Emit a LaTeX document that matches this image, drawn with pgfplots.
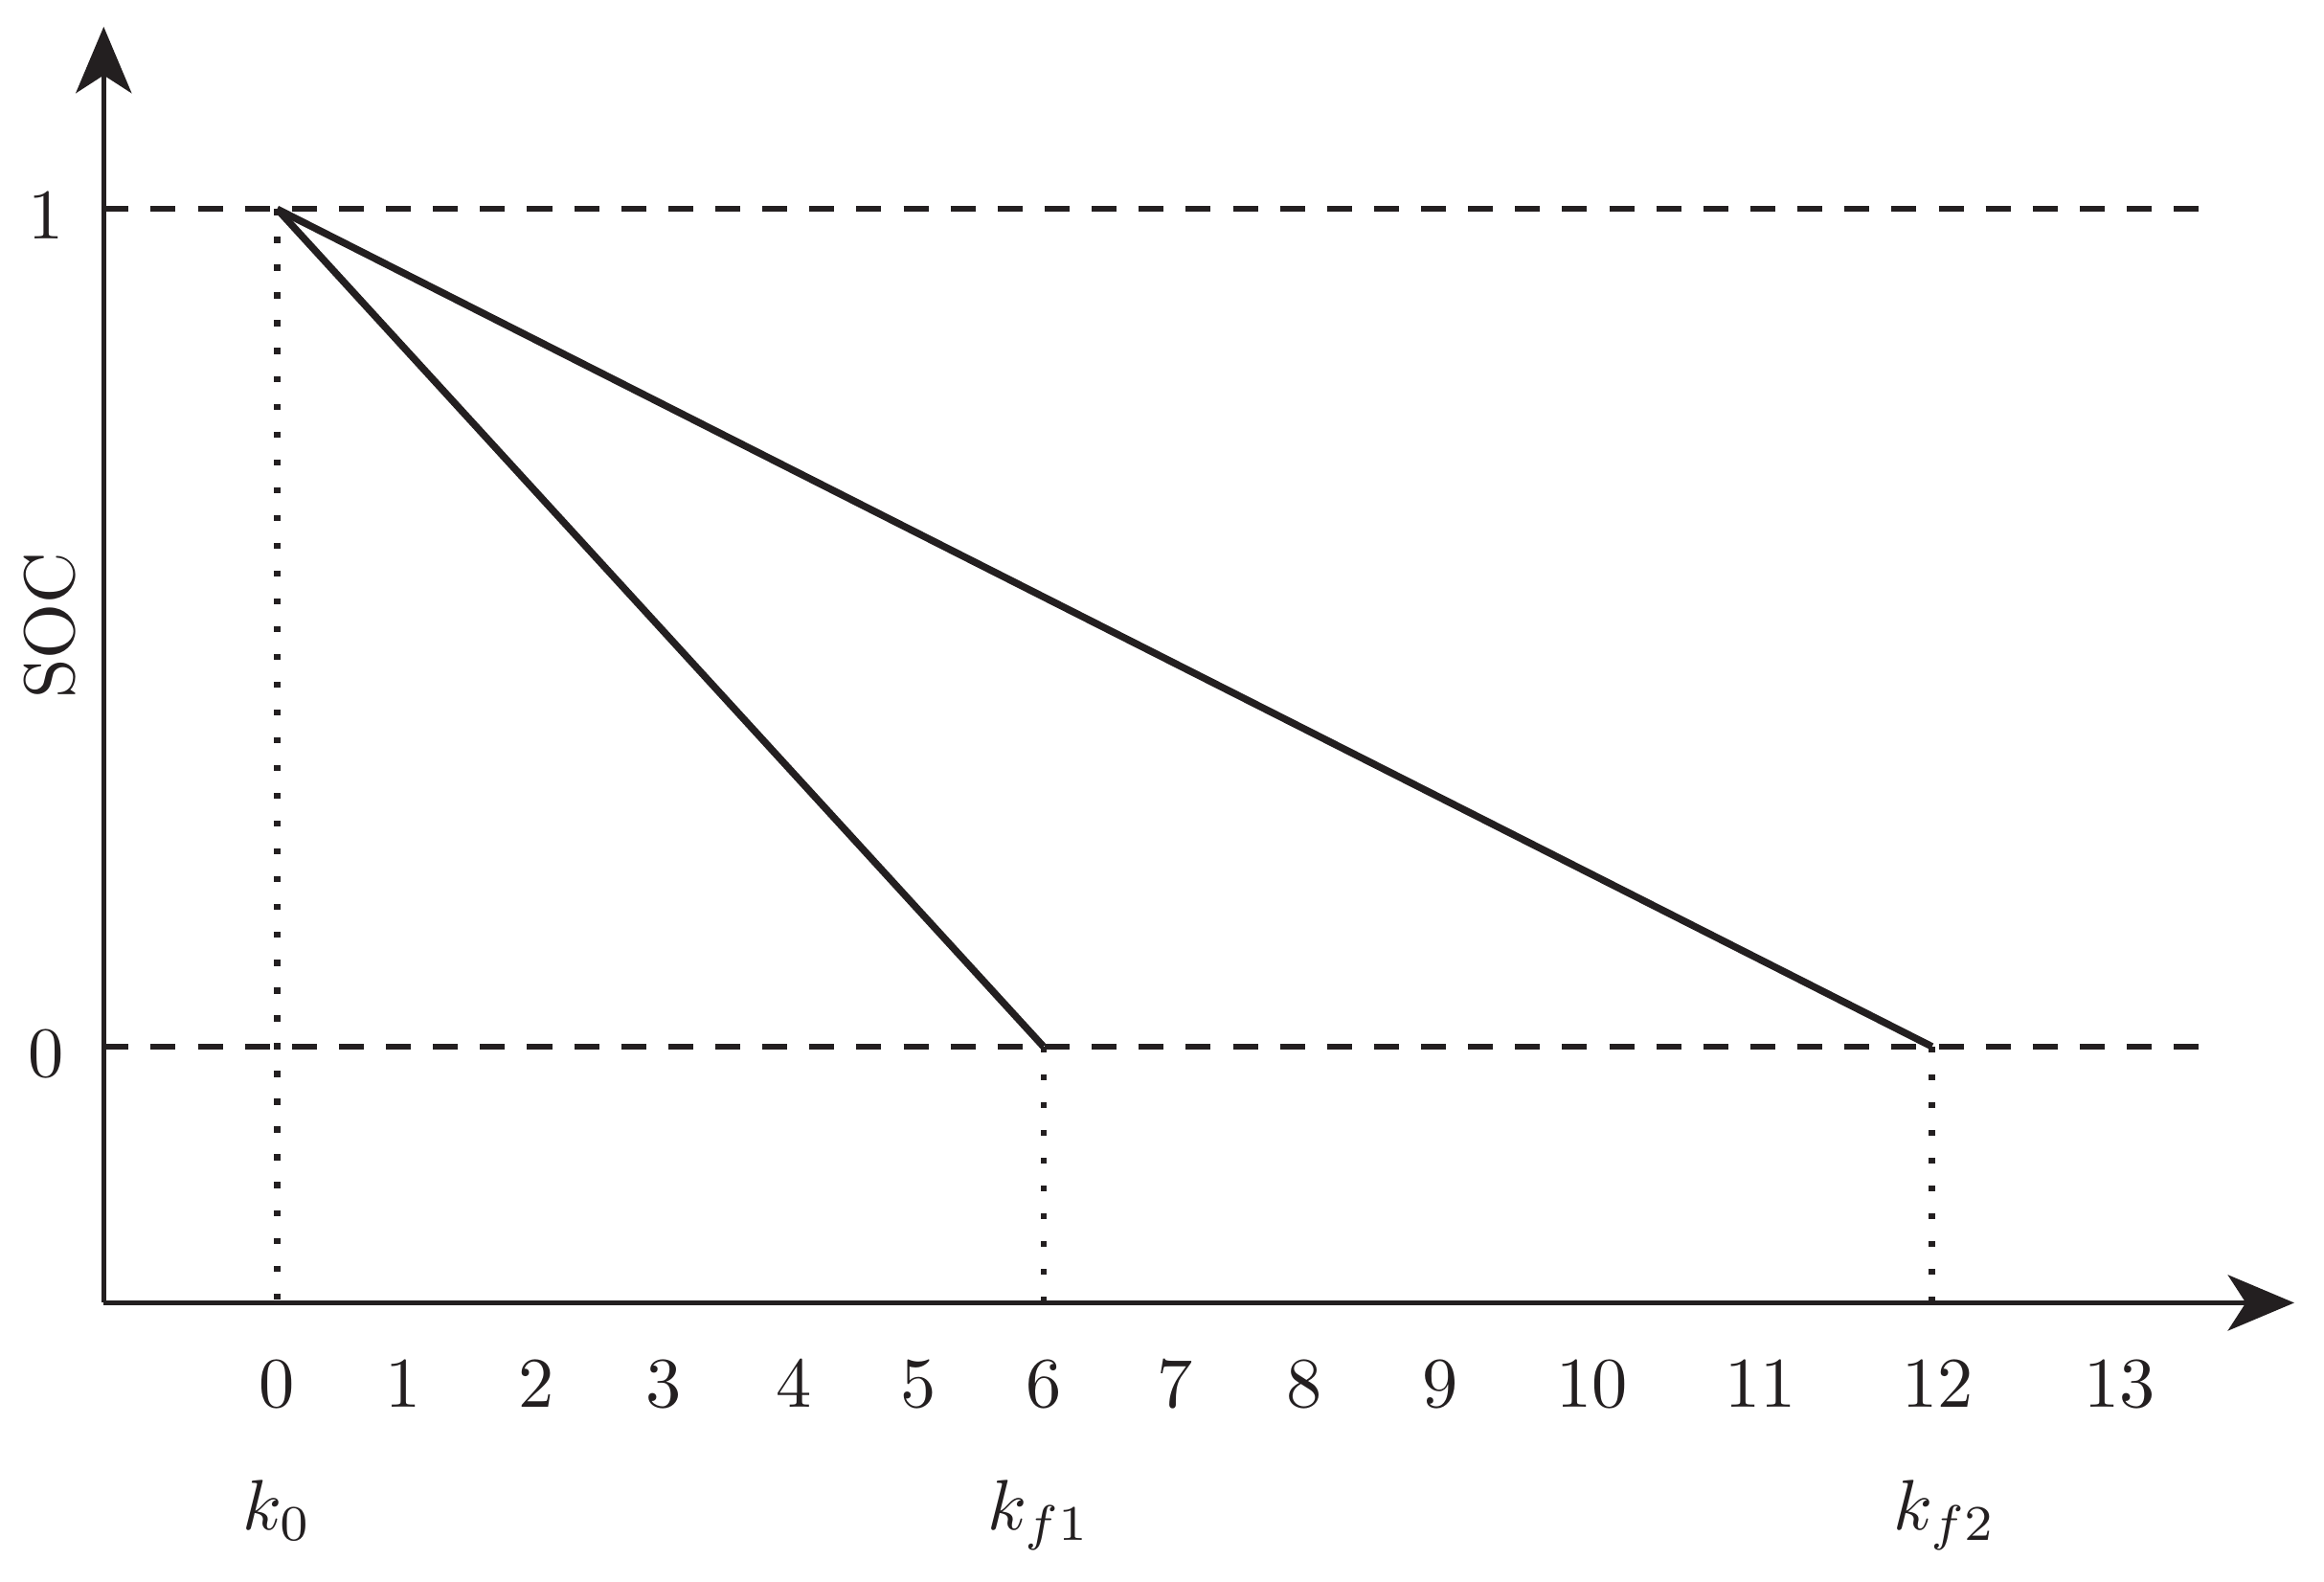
\documentclass[border=0pt]{standalone}
\usepackage{pgfplots}
\pgfplotsset{compat=1.18}
\usetikzlibrary{arrows.meta}
\definecolor{ink}{HTML}{231F20}

\begin{document}
\begin{tikzpicture}
\begin{axis}[
    scale only axis,
    width=307.3pt, height=179pt,
    xmin=-1.358, xmax=15.794,
    ymin=-0.306, ymax=1.2177,
    axis lines=left,
    axis line style={ink, line width=0.75pt, -{Stealth[length=9.3pt,width=7.8pt,inset=2.5pt]}},
    major tick length=0pt,
    tick style={draw=none},
    clip=false,
    font=\fontsize{10}{12}\selectfont,
    % tick labels are not evenly spaced in the original
    xtick={0,0.986,2.031,3.029,4.050,5.020,6,7.033,8.042,9.110,10.294,11.617,13.0,14.425},
    xticklabels={0,1,2,3,4,5,6,7,8,9,10,11,12,13},
    xticklabel style={ink, anchor=base, yshift=-14.7pt},
    ytick={0,1},
    yticklabel style={ink, anchor=base, xshift=-8.1pt, yshift=-4.2pt},
    extra x ticks={0,5.965,13.06},
    extra x tick labels={$k_0$,$k_{f1}$,$k_{f2}$},
    extra x tick style={xticklabel style={yshift=-17.1pt}},
    ylabel={SOC},
    ylabel style={ink, at={(axis description cs:-0.0244,0.531)}, anchor=center},
  ]

  % reference levels
  \addplot[ink, line width=0.85pt, dash pattern=on 3.5pt off 3.1pt] coordinates {(-1.358,1) (15.12,1)};
  \addplot[ink, line width=0.85pt, dash pattern=on 3.5pt off 3.1pt] coordinates {(-1.358,0) (15.12,0)};

  % dotted markers down to the axis
  \addplot[ink, line width=0.85pt, dash pattern=on 0.85pt off 3.05pt] coordinates {(0,1) (0,-0.306)};
  \addplot[ink, line width=0.85pt, dash pattern=on 0.85pt off 3.05pt] coordinates {(6,0) (6,-0.306)};
  \addplot[ink, line width=0.85pt, dash pattern=on 0.85pt off 3.05pt] coordinates {(12.957,0) (12.957,-0.306)};

  % SOC discharge lines
  \addplot[ink, line width=1pt] coordinates {(0,1) (6,0)};
  \addplot[ink, line width=1pt] coordinates {(0,1) (12.957,0)};

  % keep the white margin of the original
  \path (axis cs:-2.170,-0.639) rectangle (axis cs:16.027,1.2496);

\end{axis}
\end{tikzpicture}
\end{document}
